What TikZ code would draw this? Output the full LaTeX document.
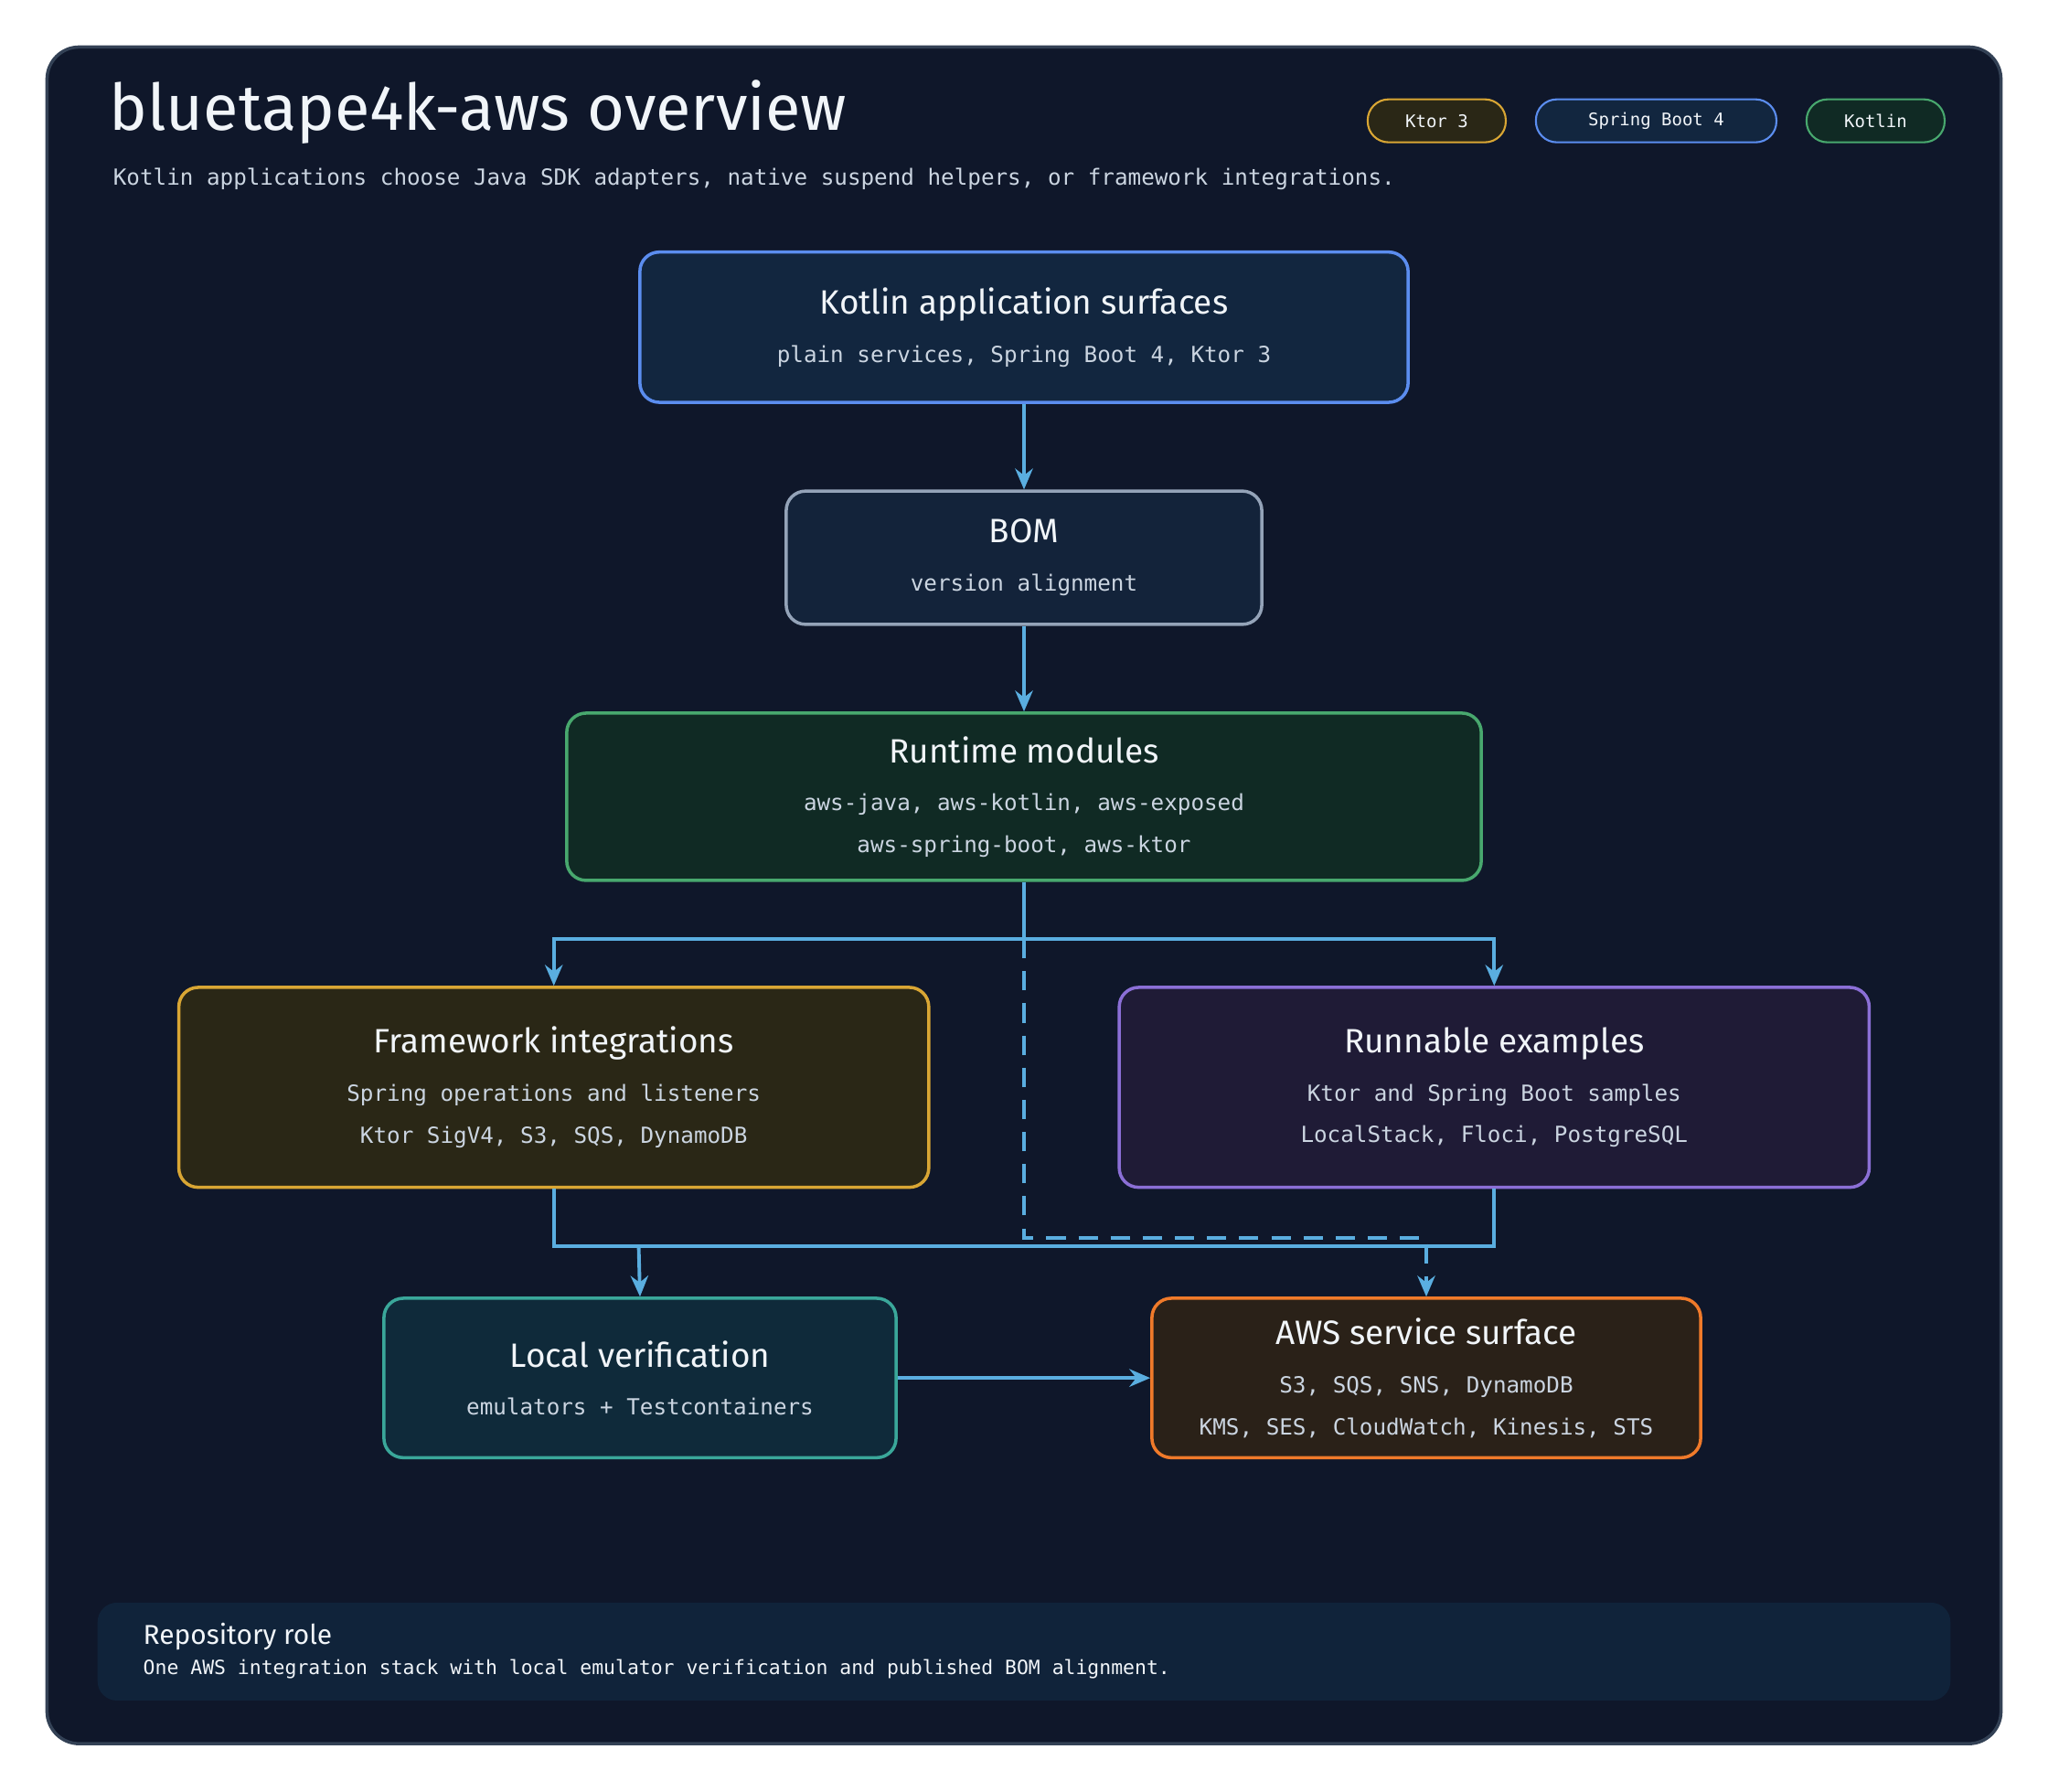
\documentclass[tikz,border=0pt]{standalone}
\usepackage{fontspec}
\setmainfont{Fira Sans}
\newfontfamily\monof{DejaVu Sans Mono}
\usetikzlibrary{positioning, arrows.meta}
\definecolor{panelbg}{HTML}{0F172A}
\definecolor{panelln}{HTML}{334155}
\definecolor{arrowc}{HTML}{5AAEE0}
\definecolor{subtx}{HTML}{CBD5E1}
\definecolor{titletx}{HTML}{F1F5F9}
\definecolor{goldln}{HTML}{D9A634}\definecolor{goldbg}{HTML}{2A2716}
\definecolor{blueln}{HTML}{5B8DEF}\definecolor{bluebg}{HTML}{12263F}
\definecolor{greenln}{HTML}{48A86E}\definecolor{greenbg}{HTML}{102A24}
\definecolor{grayln}{HTML}{94A3B8}\definecolor{graybg}{HTML}{13233A}
\definecolor{purpln}{HTML}{8B6FD6}\definecolor{purpbg}{HTML}{1F1B36}
\definecolor{tealln}{HTML}{3AA79A}\definecolor{tealbg}{HTML}{0F2A3A}
\definecolor{orangeln}{HTML}{F07A2A}\definecolor{orangebg}{HTML}{2A2118}
\definecolor{footbg}{HTML}{10233A}

\begin{document}
\begin{tikzpicture}[x=0.0142857cm, y=-0.0142857cm, >={Stealth[length=6.5pt,width=5.5pt]},
    box/.style={draw, line width=1pt, rounded corners=6pt, align=center, text=titletx, font=\fontsize{10.5}{13}\selectfont},
    pill/.style={draw, line width=0.6pt, rounded corners=6.5pt, minimum height=0.47cm, text=titletx, font=\monof\fontsize{5.4}{6}\selectfont},
    link/.style={draw=arrowc, line width=1.1pt},
    sub/.style={text=subtx}]
    \useasboundingbox (0,0) rectangle (1568,1372);
    \fill[white] (0,0) rectangle (1568,1372);

    % Panel
    \draw[fill=panelbg, draw=panelln, line width=1pt, rounded corners=10pt] (36,36) rectangle (1532,1335);
    \node[anchor=base west, text=titletx, font=\fontsize{20}{24}\selectfont] (title) at (75,100) {bluetape4k-aws overview};
    \node[anchor=base west, sub, font=\monof\fontsize{6.9}{8}\selectfont] (subtitle) at (78,142) {Kotlin applications choose Java SDK adapters, native suspend helpers, or framework integrations.};

    % Tags
    \node[pill, draw=goldln, fill=goldbg, minimum width=1.51cm] (ktor) at (1100,92.5) {Ktor 3};
    \node[pill, draw=blueln, fill=bluebg, minimum width=2.63cm] (spring) at (1268,92.5) {Spring Boot 4};
    \node[pill, draw=greenln, fill=greenbg, minimum width=1.51cm] (kotlin) at (1436,92.5) {Kotlin};

    % Boxes
    \node[box, draw=blueln, fill=bluebg, minimum width=8.4cm, minimum height=1.643cm] (app) at (784,250.5)
        {Kotlin application surfaces\\[2pt]{\monof\fontsize{6.9}{9}\selectfont\color{subtx}plain services, Spring Boot 4, Ktor 3}};
    \node[box, draw=grayln, fill=graybg, minimum width=5.2cm, minimum height=1.457cm] (bom) at (784,427)
        {BOM\\[2pt]{\monof\fontsize{6.9}{9}\selectfont\color{subtx}version alignment}};
    \node[box, draw=greenln, fill=greenbg, minimum width=10cm, minimum height=1.829cm] (runtime) at (784,610)
        {Runtime modules\\[2pt]{\monof\fontsize{6.9}{9}\selectfont\color{subtx}aws-java, aws-kotlin, aws-exposed}\\{\monof\fontsize{6.9}{9}\selectfont\color{subtx}aws-spring-boot, aws-ktor}};
    \node[box, draw=goldln, fill=goldbg, minimum width=8.2cm, minimum height=2.186cm] (frame) at (424,832.5)
        {Framework integrations\\[2pt]{\monof\fontsize{6.9}{9}\selectfont\color{subtx}Spring operations and listeners}\\{\monof\fontsize{6.9}{9}\selectfont\color{subtx}Ktor SigV4, S3, SQS, DynamoDB}};
    \node[box, draw=purpln, fill=purpbg, minimum width=8.2cm, minimum height=2.186cm] (examples) at (1144,832.5)
        {Runnable examples\\[2pt]{\monof\fontsize{6.9}{9}\selectfont\color{subtx}Ktor and Spring Boot samples}\\{\monof\fontsize{6.9}{9}\selectfont\color{subtx}LocalStack, Floci, PostgreSQL}};
    \node[box, draw=tealln, fill=tealbg, minimum width=5.6cm, minimum height=1.743cm] (local) at (490,1055)
        {Local verification\\[2pt]{\monof\fontsize{6.9}{9}\selectfont\color{subtx}emulators + Testcontainers}};
    \node[box, draw=orangeln, fill=orangebg, minimum width=6cm, minimum height=1.743cm] (aws) at (1092,1055)
        {AWS service surface\\[2pt]{\monof\fontsize{6.9}{9}\selectfont\color{subtx}S3, SQS, SNS, DynamoDB}\\{\monof\fontsize{6.9}{9}\selectfont\color{subtx}KMS, SES, CloudWatch, Kinesis, STS}};

    % Junctions
    \coordinate (split) at (784,719);
    \coordinate (dash) at (784,948);
    \coordinate (join) at (489,954);

    % Connectors
    \draw[link, ->] (app) -- (bom);
    \draw[link, ->] (bom) -- (runtime);
    \draw[link] (runtime.south) -- (split);
    \draw[link, ->] (split) -| (frame.north);
    \draw[link, ->] (split) -| (examples.north);
    \draw[link, dash pattern=on 6pt off 4pt, ->] (split) -- (dash) -| (aws.north);
    \draw[link] (frame.south) |- (join) -| (examples.south);
    \draw[link, ->] (join) -- (local.north);
    \draw[link, ->] (local) -- (aws);

    % Footer
    \node[fill=footbg, rounded corners=6pt, minimum width=20.26cm, minimum height=1.07cm] (role) at (784,1264.5) {};
    \node[anchor=base west, text=titletx, font=\fontsize{8.5}{10}\selectfont] (roletitle) at (101,1259) {Repository role};
    \node[anchor=base west, text=titletx, font=\monof\fontsize{6.1}{7}\selectfont] (roletext) at (101,1282) {One AWS integration stack with local emulator verification and published BOM alignment.};
\end{tikzpicture}
\end{document}
